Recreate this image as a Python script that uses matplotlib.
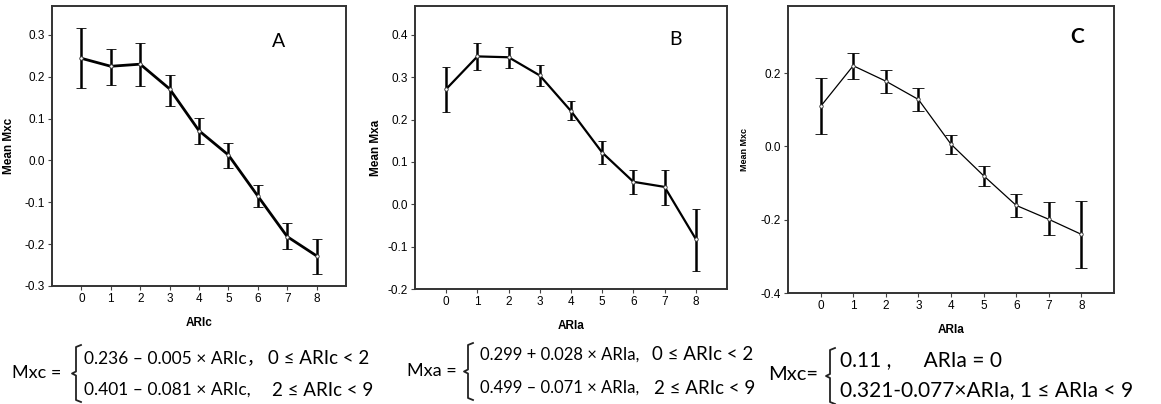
import matplotlib
matplotlib.use("Agg")
import matplotlib.pyplot as plt
from matplotlib.lines import Line2D

plt.rcParams['font.family'] = ['Liberation Sans', 'DejaVu Sans']
plt.rcParams['axes.unicode_minus'] = False

# dados
x_vals = [0, 1, 2, 3, 4, 5, 6, 7, 8]

a_mean = [0.244, 0.225, 0.230, 0.171, 0.071, 0.013, -0.085, -0.182, -0.228]
a_top = [0.316, 0.267, 0.280, 0.205, 0.102, 0.042, -0.058, -0.149, -0.188]
a_bot = [0.173, 0.181, 0.179, 0.131, 0.040, -0.017, -0.111, -0.212, -0.271]

b_mean = [0.272, 0.349, 0.347, 0.304, 0.220, 0.122, 0.053, 0.041, -0.082]
b_top = [0.323, 0.380, 0.371, 0.329, 0.243, 0.149, 0.081, 0.082, -0.012]
b_bot = [0.218, 0.318, 0.322, 0.278, 0.198, 0.096, 0.025, -0.002, -0.157]

c_mean = [0.109, 0.220, 0.178, 0.128, 0.006, -0.080, -0.161, -0.199, -0.240]
c_top = [0.186, 0.256, 0.209, 0.159, 0.031, -0.053, -0.129, -0.153, -0.149]
c_bot = [0.034, 0.183, 0.147, 0.097, -0.020, -0.109, -0.193, -0.243, -0.333]

W, H = 1161, 404
fig = plt.figure(figsize=(W / 100, H / 100), dpi=100)


def px(x, y):
    return x / W, 1 - y / H


def painel(rect, mean, top, bot, yticks, ylim, ylabel, xlabel, lw, elw, cap, ylab_x, ylab_size):
    ax = fig.add_axes(rect)
    lower = [m - b for m, b in zip(mean, bot)]
    upper = [t - m for m, t in zip(mean, top)]
    ax.errorbar(x_vals, mean, yerr=[lower, upper], color='black', lw=lw,
                elinewidth=elw, capsize=cap, capthick=elw,
                marker='o', ms=2.5, mfc='white', mec='#333333', mew=0.6)
    ax.set_xlim(-1, 9)
    ax.set_ylim(*ylim)
    ax.set_xticks(x_vals)
    ax.set_yticks(yticks)
    ax.set_yticklabels(['%.1f' % v for v in yticks])
    ax.tick_params(labelsize=8.5, length=3, width=0.8, color='#444444', pad=2)
    for s in ax.spines.values():
        s.set_linewidth(1.4)
        s.set_color('#333333')
    ax.set_ylabel(ylabel, fontsize=ylab_size, fontweight='bold')
    ax.yaxis.set_label_coords(ylab_x, 0.5)
    ax.set_xlabel(xlabel, fontsize=8.5, fontweight='bold', labelpad=9)
    return ax


# A
x0, y0 = px(52, 286)
axA = painel([x0, y0, 294 / W, 280 / H], a_mean, a_top, a_bot,
             [-0.3, -0.2, -0.1, 0.0, 0.1, 0.2, 0.3], (-0.3, 0.369),
             'Mean Mxc', 'ARIc', 2.0, 1.8, 3.5, -0.126, 8.5)
axA.text(6.71, 0.283, 'A', fontsize=14, family=['Lato', 'DejaVu Sans'], ha='center', va='center')

# B
x0, y0 = px(415, 289)
axB = painel([x0, y0, 312 / W, 283 / H], b_mean, b_top, b_bot,
             [-0.2, -0.1, 0.0, 0.1, 0.2, 0.3, 0.4], (-0.2, 0.468),
             'Mean Mxa', 'ARIa', 1.6, 1.8, 3.2, -0.106, 8.5)
axB.text(7.36, 0.388, 'B', fontsize=14, family=['Lato', 'DejaVu Sans'], ha='center', va='center')

# C
x0, y0 = px(788, 293)
axC = painel([x0, y0, 326 / W, 287 / H], c_mean, c_top, c_bot,
             [-0.4, -0.2, 0.0, 0.2], (-0.4, 0.383),
             'Mean Mxc', 'ARIa', 0.9, 1.8, 4.0, -0.12, 6.5)
axC.text(7.88, 0.298, 'C', fontsize=15, fontweight='bold', family=['Lato', 'DejaVu Sans'],
         ha='center', va='center')

# formulas
fam = ['Lato', 'Noto Sans CJK SC', 'DejaVu Sans']


def chave(x, ytop, ybot, cor='#222222'):
    ym = (ytop + ybot) / 2
    pts = [(x + 5, ytop), (x, ytop + 2), (x, ym - 2), (x - 4, ym), (x, ym + 2),
           (x, ybot - 2), (x + 5, ybot)]
    xs = [px(p[0], p[1])[0] for p in pts]
    ys = [px(p[0], p[1])[1] for p in pts]
    fig.add_artist(Line2D(xs, ys, color=cor, lw=1.3, transform=fig.transFigure))


def texto(x, y, s, fs=12):
    fx, fy = px(x, y)
    fig.text(fx, fy, s, fontsize=fs, family=fam, va='center', ha='left')


# A
texto(12, 373, 'Mxc =', 13)
chave(76, 345, 402)
texto(84, 358, '0.236 \u2013 0.005 \u00d7 ARIc\uff0c', 12.5)
texto(268, 358, '0 \u2264 ARIc < 2', 13.5)
texto(84, 390, '0.401 \u2013 0.081 \u00d7 ARIc,', 12.5)
texto(272, 390, '2 \u2264 ARIc < 9', 13.5)

# B
texto(407, 371, 'Mxa =', 13)
chave(468, 343, 400)
texto(480, 355, '0.299 + 0.028 \u00d7 ARIa,')
texto(652, 355, '0 \u2264 ARIc < 2', 13.5)
texto(480, 388, '0.499 \u2013 0.071 \u00d7 ARIa,')
texto(654, 388, '2 \u2264 ARIc < 9', 13.5)

# C
texto(768, 374, 'Mxc=', 14.5)
chave(830, 348, 404)
texto(840, 360, '0.11 ,      ARIa = 0', 15)
texto(840, 390, '0.321-0.077\u00d7ARIa, 1 \u2264 ARIa < 9', 15)

fig.savefig('out.png', dpi=100)
